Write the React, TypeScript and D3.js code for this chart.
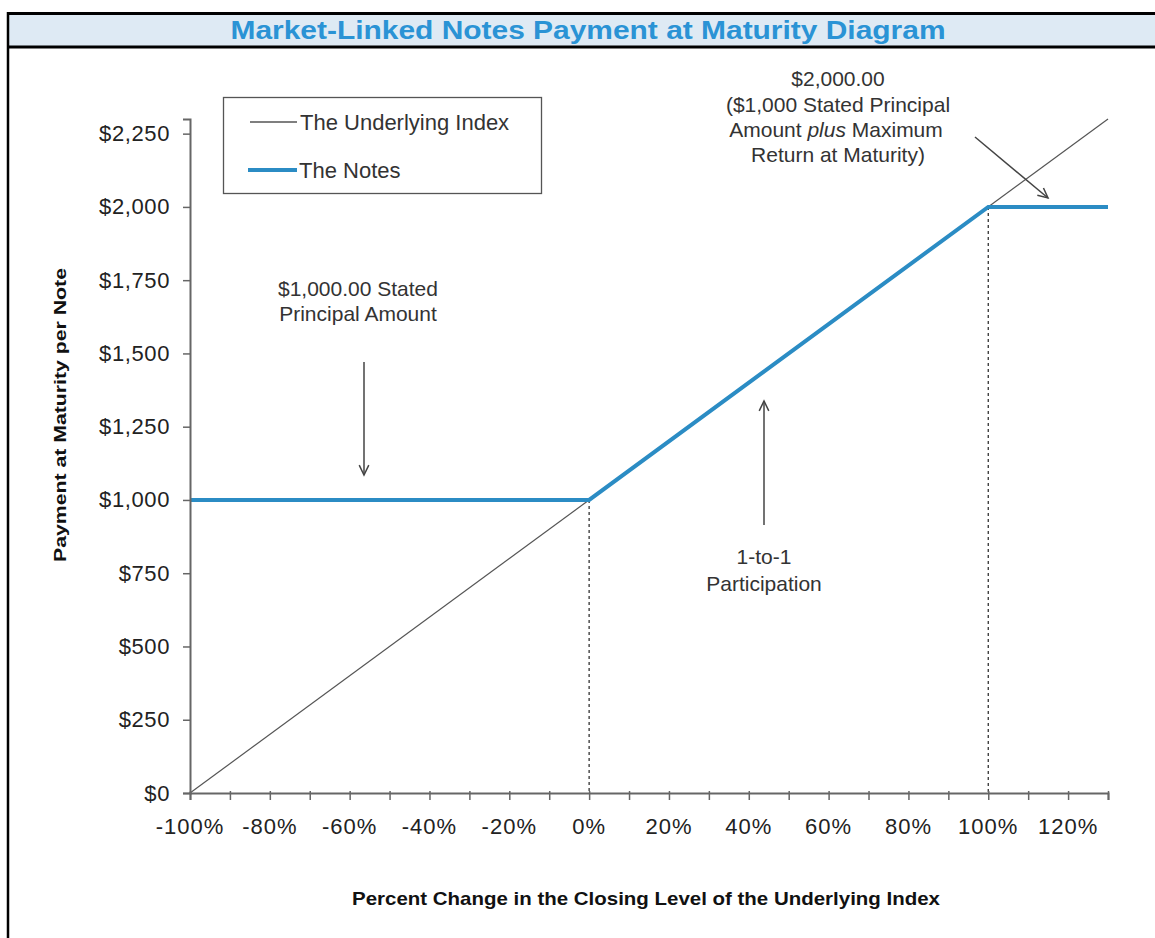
import React, { useEffect, useRef } from "react";
import * as d3 from "d3";

const xTicks = [-100, -90, -80, -70, -60, -50, -40, -30, -20, -10, 0, 10, 20, 30, 40, 50, 60, 70, 80, 90, 100, 110, 120, 130];
const xLabels = [-100, -80, -60, -40, -20, 0, 20, 40, 60, 80, 100, 120];
const yTicks = [0, 250, 500, 750, 1000, 1250, 1500, 1750, 2000, 2250];
const underlyingX = [-100, 130];
const underlyingY = [0, 2300];
const notesX = [-100, 0, 100, 130];
const notesY = [1000, 1000, 2000, 2000];
const dottedX = [0, 100];
const dottedY = [1000, 2000];

const W = 1155;
const H = 938;

export default function App() {
  const ref = useRef<SVGSVGElement | null>(null);

  useEffect(() => {
    const svg = d3.select(ref.current);
    svg.selectAll("*").remove();
    const font = "Liberation Sans, Arial, sans-serif";
    const narrow = "Liberation Sans Narrow, Arial Narrow, Liberation Sans, sans-serif";

    const x = d3.scaleLinear().domain([-100, 130]).range([190, 1108]);
    const y = d3.scaleLinear().domain([0, 2300]).range([793, 119]);

    svg.append("rect").attr("width", W).attr("height", H).attr("fill", "#fff");

    // Title bar
    svg.append("rect").attr("x", 8).attr("y", 13.5).attr("width", W).attr("height", 33.5)
      .attr("fill", "#DEEAF4");
    svg.append("line").attr("x1", 8).attr("x2", W).attr("y1", 13.5).attr("y2", 13.5)
      .attr("stroke", "#000").attr("stroke-width", 3);
    svg.append("line").attr("x1", 8).attr("x2", W).attr("y1", 47).attr("y2", 47)
      .attr("stroke", "#000").attr("stroke-width", 3);
    svg.append("line").attr("x1", 8).attr("x2", 8).attr("y1", 12).attr("y2", H)
      .attr("stroke", "#000").attr("stroke-width", 2.5);
    svg.append("text").attr("x", 588).attr("y", 39).attr("text-anchor", "middle")
      .attr("font-family", narrow).attr("font-weight", "bold").attr("font-size", 25)
      .attr("fill", "#2A93D5").attr("textLength", 715).attr("lengthAdjust", "spacingAndGlyphs")
      .text("Market-Linked Notes Payment at Maturity Diagram");

    const axisColor = "#666";

    // dotted verticals
    svg.selectAll(".dot").data(dottedX).enter().append("line")
      .attr("x1", (d) => x(d)).attr("x2", (d) => x(d))
      .attr("y1", (_d, i) => y(dottedY[i])).attr("y2", y(0))
      .attr("stroke", "#333").attr("stroke-width", 1.3).attr("stroke-dasharray", "3,3");

    // Underlying line
    const ul = d3.line<number>().x((d) => x(d)).y((_d, i) => y(underlyingY[i]));
    svg.append("path").attr("d", ul(underlyingX)).attr("fill", "none")
      .attr("stroke", "#555").attr("stroke-width", 1.2);

    // Notes line
    const nl = d3.line<number>().x((d) => x(d)).y((_d, i) => y(notesY[i]));
    svg.append("path").attr("d", nl(notesX)).attr("fill", "none")
      .attr("stroke", "#2B8CC4").attr("stroke-width", 4);

    // Axes
    const xa = svg.append("g").attr("transform", `translate(0,${y(0)})`)
      .call(d3.axisBottom(x).tickValues(xTicks).tickSize(7).tickFormat(() => ""));
    xa.select(".domain").attr("stroke", axisColor).attr("stroke-width", 2);
    xa.selectAll(".tick line").attr("stroke", axisColor).attr("stroke-width", 1.5).attr("y1", -2);

    svg.selectAll(".xl").data(xLabels).enter().append("text")
      .attr("x", (d) => x(d)).attr("y", 834).attr("text-anchor", "middle")
      .attr("font-family", font).attr("font-size", 22).attr("letter-spacing", 1)
      .attr("fill", "#222")
      .text((d) => `${d}%`);

    const ya = svg.append("g").attr("transform", `translate(${x(-100)},0)`)
      .call(d3.axisLeft(y).tickValues(yTicks).tickSize(7).tickFormat(() => ""));
    ya.select(".domain").attr("stroke", axisColor).attr("stroke-width", 2);
    ya.selectAll(".tick line").attr("stroke", axisColor).attr("stroke-width", 1.5);

    svg.selectAll(".yl").data(yTicks).enter().append("text")
      .attr("x", 170).attr("y", (d) => y(d) + 7.5).attr("text-anchor", "end")
      .attr("font-family", font).attr("font-size", 22).attr("letter-spacing", 0.6)
      .attr("fill", "#222")
      .text((d) => `$${d3.format(",")(d)}`);

    // axis titles
    svg.append("text").attr("transform", "translate(66,415) rotate(-90)")
      .attr("text-anchor", "middle").attr("font-family", font).attr("font-weight", "bold")
      .attr("font-size", 17).attr("fill", "#111")
      .attr("textLength", 294).attr("lengthAdjust", "spacingAndGlyphs")
      .text("Payment at Maturity per Note");
    svg.append("text").attr("x", 646).attr("y", 905).attr("text-anchor", "middle")
      .attr("font-family", font).attr("font-weight", "bold").attr("font-size", 19)
      .attr("fill", "#111").attr("textLength", 588).attr("lengthAdjust", "spacingAndGlyphs")
      .text("Percent Change in the Closing Level of the Underlying Index");

    // Legend
    svg.append("rect").attr("x", 223.5).attr("y", 97.5).attr("width", 318).attr("height", 96)
      .attr("fill", "#fff").attr("stroke", "#555").attr("stroke-width", 1.3);
    svg.append("line").attr("x1", 250).attr("x2", 297).attr("y1", 122).attr("y2", 122)
      .attr("stroke", "#555").attr("stroke-width", 1.3);
    svg.append("line").attr("x1", 248).attr("x2", 297).attr("y1", 170).attr("y2", 170)
      .attr("stroke", "#2B8CC4").attr("stroke-width", 4);
    svg.append("text").attr("x", 300).attr("y", 130).attr("font-family", font).attr("font-size", 22)
      .attr("fill", "#333").text("The Underlying Index");
    svg.append("text").attr("x", 299).attr("y", 178).attr("font-family", font).attr("font-size", 22)
      .attr("fill", "#333").text("The Notes");

    // Annotations
    const ann = (cx: number, y0: number, lines: string[], lh: number) => {
      lines.forEach((l, i) => {
        svg.append("text").attr("x", cx).attr("y", y0 + i * lh).attr("text-anchor", "middle")
          .attr("font-family", font).attr("font-size", 21).attr("fill", "#333").text(l);
      });
    };
    ann(358, 296, ["$1,000.00 Stated", "Principal Amount"], 25);
    ann(764, 564, ["1-to-1", "Participation"], 27);
    ann(838, 86, ["$2,000.00", "($1,000 Stated Principal"], 25.5);
    const t3 = svg.append("text").attr("x", 836).attr("y", 137).attr("text-anchor", "middle")
      .attr("font-family", font).attr("font-size", 21).attr("fill", "#333");
    t3.append("tspan").text("Amount ");
    t3.append("tspan").attr("font-style", "italic").text("plus");
    t3.append("tspan").text("  Maximum");
    ann(838, 162, ["Return at Maturity)"], 25);

    const arrow = (x1: number, y1: number, x2: number, y2: number) => {
      svg.append("line").attr("x1", x1).attr("y1", y1).attr("x2", x2).attr("y2", y2)
        .attr("stroke", "#444").attr("stroke-width", 1.5);
      const ang = Math.atan2(y2 - y1, x2 - x1);
      const len = 11;
      const spread = 0.45;
      const p = [
        [x2 - len * Math.cos(ang - spread), y2 - len * Math.sin(ang - spread)],
        [x2, y2],
        [x2 - len * Math.cos(ang + spread), y2 - len * Math.sin(ang + spread)],
      ];
      svg.append("path").attr("d", d3.line()(p as [number, number][]))
        .attr("fill", "none").attr("stroke", "#444").attr("stroke-width", 1.5);
    };
    arrow(364, 362, 364, 475);
    arrow(764, 525, 764, 401);
    arrow(975, 137, 1048, 198);
  }, []);

  return (
    <svg ref={ref} width={W} height={H} style={{ position: "absolute", left: 0, top: 0 }} />
  );
}
